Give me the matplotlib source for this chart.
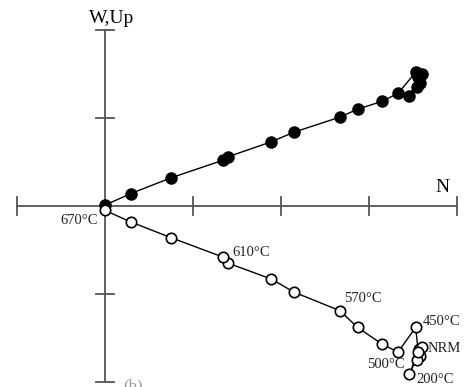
import matplotlib
matplotlib.use("Agg")
import matplotlib.pyplot as plt

# Zijderveld diagram, axis units = one tick interval
north = [3.57, 3.46, 3.60, 3.58, 3.55, 3.56, 3.53, 3.33, 3.15, 2.87, 2.67,
         2.15, 1.89, 1.40, 1.34, 0.75, 0.29, 0.0]
west = [1.45, 1.25, 1.50, 1.40, 1.35, 1.47, 1.52, 1.28, 1.19, 1.10, 1.01,
        0.84, 0.73, 0.56, 0.52, 0.32, 0.14, 0.01]
up = [-1.62, -1.91, -1.60, -1.70, -1.75, -1.66, -1.38, -1.66, -1.57, -1.38,
      -1.19, -0.98, -0.83, -0.65, -0.58, -0.36, -0.18, -0.05]

# step labels: (index, text, dx, dy, ha)
step_labels = [
    (0, "NRM", 0.10, 0.00, "left"),
    (1, "200°C", 0.08, -0.06, "left"),
    (6, "450°C", 0.08, 0.07, "left"),
    (7, "500°C", 0.08, -0.14, "right"),
    (10, "570°C", 0.05, 0.14, "left"),
    (13, "610°C", 0.05, 0.12, "left"),
    (17, "670°C", -0.08, -0.12, "right"),
]

plt.rcParams["font.family"] = ["Liberation Serif", "DejaVu Serif"]

fig = plt.figure(figsize=(4.72, 3.87), dpi=100)
ax = fig.add_axes([0, 0, 1, 1])
ax.set_xlim(-105 / 88, (472 - 105) / 88)
ax.set_ylim(-181 / 88, 206 / 88)
ax.axis("off")

axis_col = "#555555"
ax.plot([-1, 4], [0, 0], color=axis_col, lw=1.3, zorder=1)
ax.plot([0, 0], [-2, 2], color=axis_col, lw=1.3, zorder=1)
t = 0.1
for xv in [-1, 1, 2, 3, 4]:
    ax.plot([xv, xv], [-t, t], color=axis_col, lw=1.3, zorder=1)
for yv in [-2, -1, 1, 2]:
    ax.plot([-t, t], [yv, yv], color=axis_col, lw=1.3, zorder=1)

ax.text(0.07, 2.03, "W,Up", fontsize=14, ha="center", va="bottom")
ax.text(3.83, 0.11, "N", fontsize=14, ha="center", va="bottom")

ax.plot(north, west, color="black", lw=1.0, marker="o", ms=8,
        mfc="black", mec="black", zorder=3)
ax.plot(north, up, color="black", lw=1.0, marker="o", ms=7.5,
        mfc="white", mec="black", mew=1.2, zorder=3)

for i, txt, dx, dy, ha in step_labels:
    ax.text(north[i] + dx, up[i] + dy, txt, fontsize=10.5, ha=ha,
            va="center", color="#222222", zorder=4)

ax.text(0.32, -2.14, "(b)", fontsize=12, ha="center", va="bottom",
        color="#999999")

fig.savefig("out.png", dpi=100)
